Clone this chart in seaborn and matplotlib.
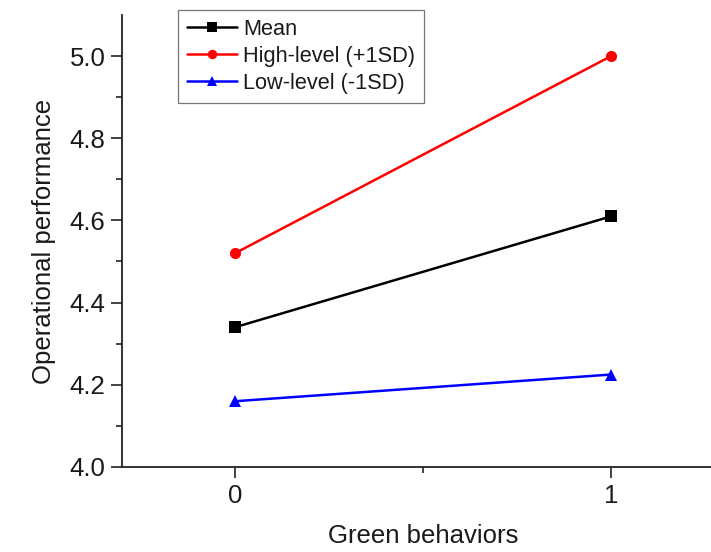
import pandas as pd
import seaborn as sns
import matplotlib.pyplot as plt

# datos
green_behaviors = [0, 1]
mean_vals = [4.34, 4.61]
high_vals = [4.52, 5.00]
low_vals = [4.16, 4.225]
groups = ['Mean', 'High-level (+1SD)', 'Low-level (-1SD)']

df = pd.DataFrame({
    'Green behaviors': green_behaviors * 3,
    'Operational performance': mean_vals + high_vals + low_vals,
    'group': [groups[0]] * 2 + [groups[1]] * 2 + [groups[2]] * 2,
})

sns.set_style('ticks')
plt.rcParams['font.family'] = ['Liberation Sans', 'DejaVu Sans']
plt.rcParams['text.color'] = '#1a1a1a'
plt.rcParams['axes.labelcolor'] = '#1a1a1a'
plt.rcParams['xtick.labelcolor'] = '#1a1a1a'
plt.rcParams['ytick.labelcolor'] = '#1a1a1a'

fig = plt.figure(figsize=(7.11, 5.52), dpi=100)
ax = fig.add_axes([0.1716, 0.154, 0.847, 0.819])

sns.lineplot(data=df, x='Green behaviors', y='Operational performance', hue='group',
             style='group', markers=['s', 'o', '^'], dashes=False,
             palette=['black', 'red', 'blue'], linewidth=1.8, markersize=8,
             markeredgewidth=0, ax=ax)

ax.set_xlim(-0.3, 1.3)
ax.set_ylim(4.0, 5.1)
ax.set_xticks([0, 1])
ax.set_xticks([0.5], minor=True)
ax.set_yticks([4.0, 4.2, 4.4, 4.6, 4.8, 5.0])
ax.set_yticks([4.1, 4.3, 4.5, 4.7, 4.9], minor=True)
ax.tick_params(axis='both', which='major', length=8, width=1.2, labelsize=18.5, direction='out', color='#222222', pad=4)
ax.tick_params(axis='both', which='minor', length=4, width=1.2, direction='out', color='#222222')
for s in ['left', 'bottom']:
    ax.spines[s].set_linewidth(1.3)
    ax.spines[s].set_color('#222222')
sns.despine(ax=ax)

ax.set_xlabel('Green behaviors', fontsize=18.5, labelpad=12)
ax.set_ylabel('Operational performance', fontsize=18.5, labelpad=10)

leg = ax.legend(loc='upper left', bbox_to_anchor=(0.093, 1.011), fontsize=15.7,
                frameon=True, fancybox=False, edgecolor='#555555', handlelength=2.3,
                borderpad=0.4, labelspacing=0.28, handletextpad=0.28, borderaxespad=0,
                markerscale=0.85)
leg.get_frame().set_linewidth(0.9)

plt.savefig('out.png', dpi=100)
